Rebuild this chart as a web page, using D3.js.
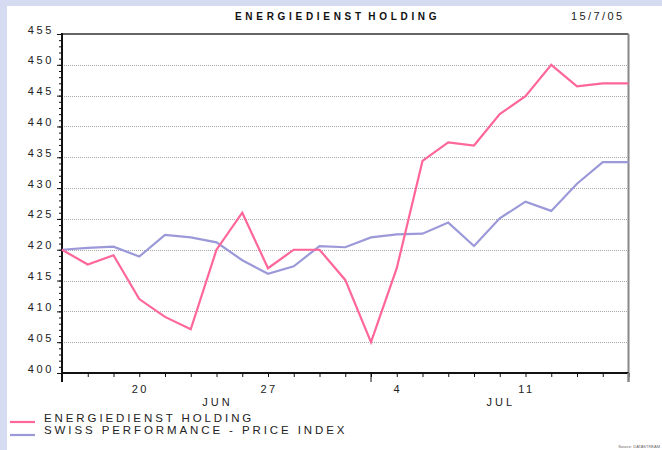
<!DOCTYPE html>
<html><head><meta charset="utf-8">
<script src="https://cdn.jsdelivr.net/npm/d3@7"></script>
<style>
html,body{margin:0;padding:0;background:#fff;}
svg{display:block;font-family:"Liberation Sans",Arial,sans-serif;}
</style></head>
<body><svg id="c" width="662" height="450"></svg>
<script>
const dates = ["2005-06-15","2005-06-16","2005-06-17","2005-06-20","2005-06-21","2005-06-22","2005-06-23","2005-06-24",
  "2005-06-27","2005-06-28","2005-06-29","2005-06-30","2005-07-01","2005-07-04","2005-07-05","2005-07-06","2005-07-07",
  "2005-07-08","2005-07-11","2005-07-12","2005-07-13","2005-07-14","2005-07-15"];
const energiedienst = [420.0,417.6,419.1,412.0,409.1,407.1,420.0,426.0,417.0,420.0,420.0,415.1,405.0,417.0,434.4,437.4,436.9,442.0,444.9,450.0,446.5,447.0,447.0];
const swissIndex = [420.0,420.3,420.5,418.9,422.4,422.0,421.2,418.3,416.1,417.3,420.6,420.4,422.0,422.5,422.6,424.4,420.6,425.1,427.8,426.3,430.7,434.2,434.2];
const seriesNames = ["ENERGIEDIENST HOLDING","SWISS PERFORMANCE - PRICE INDEX"];
const yTicks = [400,405,410,415,420,425,430,435,440,445,450,455];
const xLabelDates = ["2005-06-20","2005-06-27","2005-07-04","2005-07-11"];
const xLabelTexts = ["20","27","4","11"];
const monthNames = ["JUN","JUL"];
const monthEdges = ["2005-06-15","2005-07-01","2005-07-15"];
const title = "ENERGIEDIENST HOLDING";
const dateStamp = "15/7/05";
const source = "Source: DATASTREAM";

const svg = d3.select("#c");
const L=62, R=628.5, T=34, B=373;
const pink="#ff6699", blue="#9c99d9";

// background frame
svg.append("rect").attr("x",0).attr("y",0).attr("width",662).attr("height",450).attr("fill","#d5dcf2");
svg.append("rect").attr("x",7).attr("y",6).attr("width",655).attr("height",444).attr("fill","#fff");

const x = d3.scalePoint().domain(dates).range([L,R]);
const y = d3.scaleLinear().domain([400,455]).range([B,T]);

// gridlines
svg.append("g").selectAll("line").data(yTicks.filter(v=>v>400&&v<455)).join("line")
  .attr("x1",L).attr("x2",R).attr("y1",d=>Math.round(y(d))+0.5).attr("y2",d=>Math.round(y(d))+0.5)
  .attr("stroke","#a8a8a8").attr("stroke-width",1).attr("stroke-dasharray","1,1");

// plot border top/right
svg.append("line").attr("x1",L).attr("x2",R).attr("y1",T).attr("y2",T).attr("stroke","#333").attr("stroke-width",1.3);
svg.append("line").attr("x1",R).attr("x2",R).attr("y1",T).attr("y2",B+9).attr("stroke","#888").attr("stroke-width",2);

// y axis minor + major
const yMinor = d3.range(400,456,1);
const yAxisMinor = d3.axisLeft(y).tickValues(yMinor).tickSize(3).tickFormat("");
const gyMin = svg.append("g").attr("transform",`translate(${L},0)`).call(yAxisMinor);
const yAxisMajor = d3.axisLeft(y).tickValues(yTicks).tickSize(5).tickFormat("");
const gy = svg.append("g").attr("transform",`translate(${L},0)`).call(yAxisMajor);
[gyMin,gy].forEach(g=>{g.select(".domain").remove(); g.selectAll("line").attr("stroke","#111").attr("stroke-width",1);});
svg.append("line").attr("x1",L).attr("x2",L).attr("y1",T-1).attr("y2",B+9).attr("stroke","#111").attr("stroke-width",2);
svg.append("g").selectAll("text").data(yTicks).join("text")
  .attr("x",54).attr("y",d=>y(d)-0.5).attr("text-anchor","end")
  .attr("font-size",11).attr("letter-spacing","2.6px").attr("fill","#222").text(d=>d);

// x axis
svg.append("line").attr("x1",L).attr("x2",R).attr("y1",B).attr("y2",B).attr("stroke","#111").attr("stroke-width",2);
const xAxis = d3.axisBottom(x).tickSize(4).tickFormat("");
const gx = svg.append("g").attr("transform",`translate(0,${B})`).call(xAxis);
gx.select(".domain").remove();
gx.selectAll("line").attr("stroke","#111");
svg.append("g").selectAll("line").data(monthEdges).join("line")
  .attr("x1",d=>x(d)).attr("x2",d=>x(d)).attr("y1",B).attr("y2",B+9)
  .attr("stroke",(d,i)=>i===monthEdges.length-1?"#888":"#111").attr("stroke-width",(d,i)=>i===monthEdges.length-1?2:1);
svg.append("g").selectAll("text").data(xLabelDates).join("text")
  .attr("x",d=>x(d)+1).attr("y",393).attr("text-anchor","middle")
  .attr("font-size",11).attr("letter-spacing","2.5px").attr("fill","#222").text((d,i)=>xLabelTexts[i]);
svg.append("g").selectAll("text").data(monthNames).join("text")
  .attr("x",(d,i)=>(x(monthEdges[i])+x(monthEdges[i+1]))/2+1).attr("y",406).attr("text-anchor","middle")
  .attr("font-size",11).attr("letter-spacing","3px").attr("fill","#222").text(d=>d);

// lines
const line = d3.line().x((d,i)=>x(dates[i])).y(d=>y(d));
svg.append("path").datum(swissIndex).attr("d",line).attr("fill","none").attr("stroke",blue).attr("stroke-width",2.2).attr("stroke-linejoin","miter");
svg.append("path").datum(energiedienst).attr("d",line).attr("fill","none").attr("stroke",pink).attr("stroke-width",2.2).attr("stroke-linejoin","miter");

// title
svg.append("text").attr("x",235).attr("y",20).attr("font-size",10).attr("font-weight","bold")
  .attr("letter-spacing","3.7px").attr("word-spacing","-3px").attr("fill","#111").text(title);
svg.append("text").attr("x",571).attr("y",20).attr("font-size",11)
  .attr("letter-spacing","2.4px").attr("fill","#222").text(dateStamp);

// legend
const legColors=[pink,blue];
const lg = svg.append("g");
lg.selectAll("line").data(seriesNames).join("line")
  .attr("x1",10).attr("x2",35).attr("y1",(d,i)=>422+i*13).attr("y2",(d,i)=>422+i*13)
  .attr("stroke",(d,i)=>legColors[i]).attr("stroke-width",2.2);
lg.selectAll("text").data(seriesNames).join("text")
  .attr("x",44).attr("y",(d,i)=>421.5+i*12).attr("font-size",11.5)
  .attr("letter-spacing","2.9px").attr("fill","#222").text(d=>d);

svg.append("text").attr("x",660).attr("y",448).attr("text-anchor","end").attr("font-size",4)
  .attr("fill","#666").text(source);
</script></body></html>
